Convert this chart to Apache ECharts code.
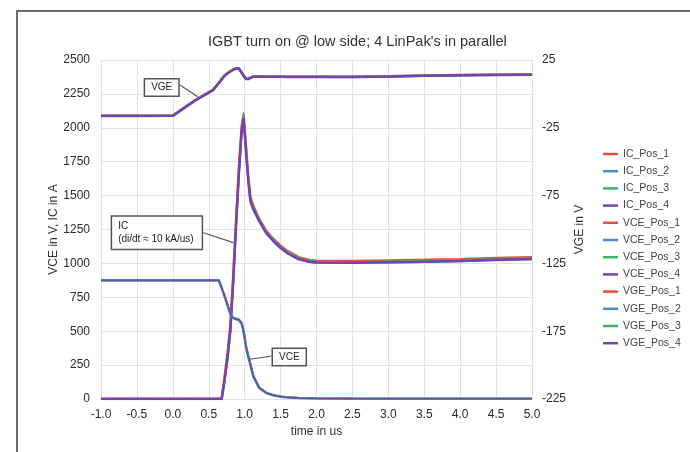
<!DOCTYPE html>
<html>
<head>
<meta charset="utf-8">
<script src="https://cdn.jsdelivr.net/npm/echarts@6/dist/echarts.min.js"></script>
<style>html,body{margin:0;padding:0;background:#fff}#c{width:690px;height:452px}</style>
</head>
<body>
<div id="c"></div>
<script>
// time axis (us)
const time = [-1.0, -0.5, 0.0, 0.3, 0.56, 0.64, 0.68, 0.72, 0.76, 0.80, 0.84, 0.88, 0.92, 0.96, 0.985, 1.02, 1.05, 1.08, 1.12, 1.2, 1.3, 1.4, 1.5, 1.6, 1.75, 1.9, 2.0, 2.5, 3.0, 3.5, 4.0, 4.5, 5.0];

// IC in A
const icPos1 = [2,1,2,1,2,2,3,160,330,540,900,1320,1710,2020,2100,1850,1640,1490,1425,1330,1240,1180,1130,1090,1046,1026,1020,1018,1022,1026,1031,1040,1046];
const icPos2 = [0,1,0,1,0,1,0,135,295,495,850,1270,1660,1985,2060,1815,1605,1455,1398,1312,1222,1162,1112,1072,1030,1010,1004,1003,1006,1010,1016,1024,1030];
const icPos3 = [1,0,1,0,1,0,1,120,275,475,830,1250,1650,1980,2115,1860,1650,1490,1420,1330,1238,1178,1126,1086,1042,1022,1015,1012,1016,1020,1026,1034,1040];
const icPos4 = [0,0,0,0,0,0,0,140,300,500,860,1280,1670,1990,2070,1820,1610,1460,1400,1315,1225,1165,1115,1075,1032,1012,1006,1004,1008,1012,1018,1026,1032];

// VCE in V
const vcePos1 = [877,877,876,877,876,877,823,763,698,631,600,592,587,558,503,388,318,258,173,88,47,29,19,13,9,7,6,4,3,3,3,3,3];
const vcePos2 = [874,874,874,874,874,874,818,758,693,626,596,588,583,553,497,382,312,252,167,83,44,27,17,11,7,5,4,2,2,2,2,2,2];
const vcePos3 = [876,876,876,876,876,876,822,762,698,632,601,593,588,560,506,392,321,260,175,89,47,29,19,13,8,6,5,3,2,2,2,2,2];
const vcePos4 = [875,875,875,875,875,875,820,760,695,628,598,590,585,555,500,385,315,255,170,85,45,28,18,12,8,6,5,3,2,2,2,2,2];

// VGE in V
const vgePos1 = [-16.1,-16.1,-16.0,-5.0,3.0,8.2,10.9,13.6,15.2,16.7,18.0,18.9,18.8,15.7,13.5,11.2,11.1,12.0,12.8,12.9,12.8,12.8,12.8,12.7,12.7,12.7,12.7,12.6,13.0,13.5,13.9,14.2,14.3];
const vgePos2 = [-16.4,-16.4,-16.3,-5.3,2.7,7.9,10.6,13.3,14.9,16.4,17.7,18.6,18.5,15.4,13.2,10.9,10.8,11.7,12.5,12.6,12.5,12.5,12.5,12.4,12.4,12.4,12.4,12.3,12.7,13.2,13.6,13.9,14.0];
const vgePos3 = [-16.2,-16.2,-16.1,-5.1,2.9,8.1,10.8,13.5,15.1,16.6,17.9,18.8,18.7,15.6,13.4,11.1,11.0,11.9,12.7,12.8,12.7,12.7,12.7,12.6,12.6,12.6,12.6,12.5,12.9,13.4,13.8,14.1,14.2];
const vgePos4 = [-16.3,-16.3,-16.2,-5.2,2.8,8.0,10.7,13.4,15.0,16.5,17.8,18.7,18.6,15.5,13.3,11.0,10.9,11.8,12.6,12.7,12.6,12.6,12.6,12.5,12.5,12.5,12.5,12.4,12.8,13.3,13.7,14.0,14.1];

// axis ticks
const xTicks = { min: -1.0, max: 5.0, step: 0.5 };
const leftTicks = { min: 0, max: 2500, step: 250 };
const rightTicks = { min: -225, max: 25, step: 50 };

const C = { red: '#ee4b3f', blue: '#4a88d0', green: '#3fb56a', purple: '#7344ab' };
const FONT = '"Liberation Sans", Arial, sans-serif';

function pairs(arr) { return time.map((t, i) => [t, arr[i]]); }

function line(name, arr, color, width, yAxisIndex, extra) {
  return Object.assign({
    name, type: 'line', data: pairs(arr), yAxisIndex,
    showSymbol: false, symbol: 'none', smooth: false,
    lineStyle: { color, width }, itemStyle: { color },
    emphasis: { disabled: true }, silent: true, z: 2
  }, extra || {});
}

const boxLabel = {
  show: true, position: 'inside', color: '#222', fontFamily: FONT, fontSize: 10,
  backgroundColor: '#fff', borderColor: '#555', borderWidth: 1.5, padding: [3, 6]
};

const annotations = {
  markPoint: {
    symbol: 'rect', symbolSize: 0, silent: true, animation: false,
    data: [
      { coord: [-0.155, 2297], label: Object.assign({}, boxLabel, { formatter: 'VGE' }) },
      { coord: [-0.845, 1226], label: Object.assign({}, boxLabel, { formatter: 'IC\n(di/dt \u2248 10 kA/us)', align: 'left', lineHeight: 13, padding: [3, 8, 3, 6] }) },
      { coord: [1.621, 310], label: Object.assign({}, boxLabel, { formatter: 'VCE' }) }
    ]
  },
  markLine: {
    symbol: 'none', silent: true, animation: false,
    lineStyle: { color: '#555', width: 1.2, type: 'solid' }, label: { show: false },
    data: [
      [{ coord: [0.10, 2316] }, { coord: [0.347, 2229] }],
      [{ coord: [0.425, 1226] }, { coord: [0.843, 1153] }],
      [{ coord: [1.377, 317] }, { coord: [1.075, 293] }]
    ]
  }
};

const series = [
  line('IC_Pos_1', icPos1, C.red, 2.5, 0),
  line('IC_Pos_2', icPos2, C.blue, 2, 0),
  line('IC_Pos_3', icPos3, C.green, 1.5, 0),
  line('IC_Pos_4', icPos4, C.purple, 2.5, 0, annotations),
  line('VCE_Pos_1', vcePos1, C.red, 1.5, 0),
  line('VCE_Pos_2', vcePos2, C.blue, 2.5, 0),
  line('VCE_Pos_3', vcePos3, C.green, 2, 0),
  line('VCE_Pos_4', vcePos4, C.purple, 1.5, 0),
  line('VGE_Pos_1', vgePos1, C.red, 2.5, 1),
  line('VGE_Pos_2', vgePos2, C.blue, 1.5, 1),
  line('VGE_Pos_3', vgePos3, C.green, 2.5, 1),
  line('VGE_Pos_4', vgePos4, C.purple, 2.5, 1)
];

const gridColor = '#e3e3e3';
const labelStyle = { color: '#2a2a2a', fontFamily: FONT, fontSize: 12 };

const chart = echarts.init(document.getElementById('c'), null, { renderer: 'canvas' });
chart.setOption({
  animation: false,
  backgroundColor: '#fff',
  textStyle: { fontFamily: FONT },
  title: {
    text: "IGBT turn on @ low side; 4 LinPak's in parallel",
    left: 203, top: 29,
    textStyle: { color: '#333', fontFamily: FONT, fontSize: 14.5, fontWeight: 'normal' }
  },
  legend: {
    orient: 'vertical', left: 598, top: 143,
    icon: 'rect', itemWidth: 15, itemHeight: 2.5, itemGap: 5.2,
    textStyle: { color: '#444', fontFamily: FONT, fontSize: 10.5, lineHeight: 12 },
    data: series.map(s => s.name), selectedMode: false
  },
  grid: { left: 101, right: 158, top: 60, bottom: 53, containLabel: false },
  xAxis: {
    type: 'value', min: xTicks.min, max: xTicks.max, interval: xTicks.step,
    name: 'time in us', nameLocation: 'middle', nameGap: 25,
    nameTextStyle: { color: '#333', fontFamily: FONT, fontSize: 12 },
    axisLine: { show: true, lineStyle: { color: gridColor } },
    axisTick: { show: false },
    axisLabel: Object.assign({}, labelStyle, { margin: 10, formatter: v => v.toFixed(1) }),
    splitLine: { show: true, lineStyle: { color: gridColor, width: 1 } }
  },
  yAxis: [
    {
      type: 'value', min: leftTicks.min, max: leftTicks.max, interval: leftTicks.step,
      name: 'VCE in V, IC in A', nameLocation: 'middle', nameGap: 41, nameRotate: 90, nameMoveOverlap: false,
      nameTextStyle: { color: '#333', fontFamily: FONT, fontSize: 12 },
      axisLine: { show: true, lineStyle: { color: gridColor } },
      axisTick: { show: false },
      axisLabel: Object.assign({}, labelStyle, { margin: 11, formatter: v => String(v) }),
      splitLine: { show: true, lineStyle: { color: gridColor, width: 1 } }
    },
    {
      type: 'value', position: 'right', min: rightTicks.min, max: rightTicks.max, interval: rightTicks.step,
      name: 'VGE in V', nameLocation: 'middle', nameGap: 42, nameRotate: 90, nameMoveOverlap: false,
      nameTextStyle: { color: '#333', fontFamily: FONT, fontSize: 12 },
      axisLine: { show: true, lineStyle: { color: gridColor } },
      axisTick: { show: false },
      axisLabel: Object.assign({}, labelStyle, { margin: 10, formatter: v => String(v) }),
      splitLine: { show: false }
    }
  ],
  graphic: [
    { type: 'rect', shape: { x: 17, y: 11, width: 700, height: 470 }, style: { fill: 'none', stroke: '#6b6b6b', lineWidth: 2 }, silent: true, z: -1 }
  ],
  series
});
</script>
</body>
</html>
